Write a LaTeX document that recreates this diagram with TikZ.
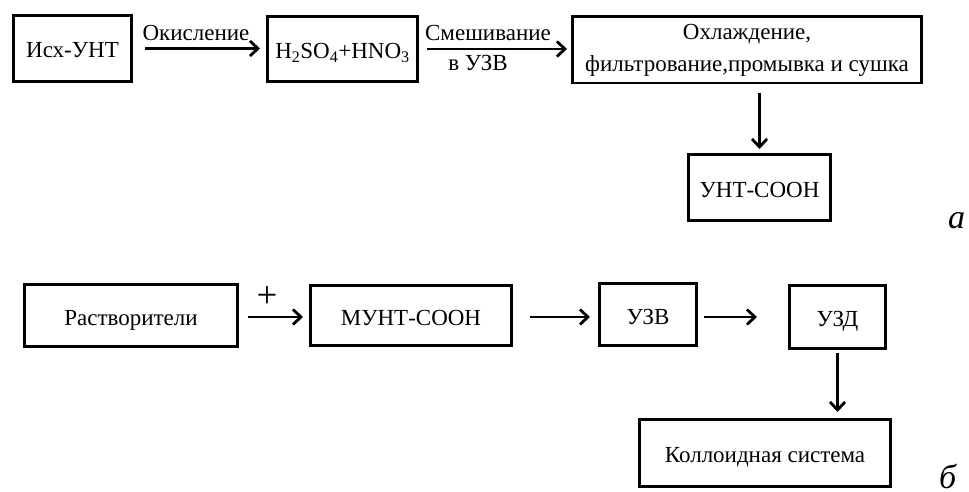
\documentclass[tikz,border=0pt]{standalone}
\usepackage{fontspec}
\setmainfont{Liberation Serif}
\usetikzlibrary{arrows.meta,shadows}
\tikzset{
  box/.style={draw=black, line width=2.8pt, inner sep=0pt, align=center, fill=white,
    drop shadow={shadow xshift=1.2pt, shadow yshift=-1.2pt, opacity=0.35, fill=gray},
    font=\fontsize{23}{32}\selectfont},
  one/.style={text height=19pt, text depth=0pt},
  arr/.style={line width=2.8pt, -{Straight Barb[length=8pt,width=15pt,line width=2.8pt]}},
  lbl/.style={inner sep=0pt, font=\fontsize{23}{26}\selectfont},
  tag/.style={inner sep=0pt, anchor=base west, text depth=0pt, font=\fontsize{34}{36}\selectfont\itshape}
}
\begin{document}
\begin{tikzpicture}[x=1pt,y=-1pt]
\useasboundingbox (0,0) rectangle (969,492);
% row a
\node[box, one, minimum width=118.2pt, minimum height=66.2pt] (b1) at (72.5,48.5) {Исх-УНТ};
\node[box, one, minimum width=150.2pt, minimum height=65.2pt] (b2) at (342.5,49) {H\textsubscript{2}SO\textsubscript{4}+HNO\textsubscript{3}};
\node[box, minimum width=349.2pt, minimum height=66.2pt] (b3) at (747,50) {Охлаждение,\\фильтрование,промывка и сушка};
\node[box, one, minimum width=142.2pt, minimum height=66.2pt] (b4) at (759.5,187.5) {УНТ-СООН};
\draw[arr] ([xshift=12pt]b1.east) -- ([xshift=-6pt]b1.east -| b2.west);
\draw[arr] ([xshift=8pt]b2.east) -- ([xshift=-4pt]b2.east -| b3.west);
\draw[arr] ([yshift=-8.5pt]b4.north |- b3.south) -- ([yshift=4pt]b4.north);
\node[lbl] (l1) at (196,33) {Окисление};
\node[lbl] (l2) at (488,33) {Смешивание};
\node[lbl] (l3) at (478,63) {в УЗВ};
\node[tag] (ta) at (948,228) {а};
% row b
\node[box, one, minimum width=213.2pt, minimum height=62.2pt] (c1) at (131,315.5) {Растворители};
\node[box, one, minimum width=201.2pt, minimum height=60.2pt] (c2) at (411,315.5) {МУНТ-СООН};
\node[box, one, minimum width=97.2pt, minimum height=62.2pt] (c3) at (648,314.5) {УЗВ};
\node[box, one, minimum width=96.2pt, minimum height=63.2pt] (c4) at (837.5,317) {УЗД};
\node[box, one, minimum width=251.2pt, minimum height=67.2pt] (c5) at (765,453) {Коллоидная система};
\coordinate (ya) at (0,317);
\draw[arr] ([xshift=9pt]c1.east |- ya) -- ([xshift=-6pt]c2.west |- ya);
\draw[arr] ([xshift=17pt]c2.east |- ya) -- ([xshift=-8pt]c3.west |- ya);
\draw[arr] ([xshift=6pt]c3.east |- ya) -- ([xshift=-31pt]c4.west |- ya);
\draw[arr] ([yshift=-3pt]c4.south) -- ([yshift=6pt]c5.north -| c4.south);
\node[inner sep=0pt, font=\fontsize{37}{40}\selectfont] (pl) at (267,297) {+};
\node[tag] (tb) at (939,488) {б};
\end{tikzpicture}
\end{document}
